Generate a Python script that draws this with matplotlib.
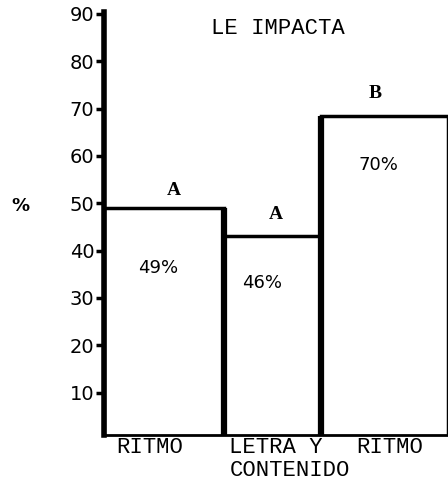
import numpy as np
import matplotlib.pyplot as plt

# values
categories = ["RITMO", "LETRA Y", "RITMO"]
bar_heights = [49, 43, 68.5]
pct_labels = ["49%", "46%", "70%"]
group_letters = ["A", "A", "B"]
yticks = [10, 20, 30, 40, 50, 60, 70, 80, 90]

# layout (pixel-like units along x)
lefts = np.array([0, 120, 217])
widths = np.array([120, 97, 127])

fig = plt.figure(figsize=(4.48, 4.84), dpi=100)
ax = fig.add_axes([0.232, 0.101, 0.768, 0.875])

ax.bar(lefts, bar_heights, width=widths, align='edge', color='white',
       edgecolor='black', linewidth=2.5, zorder=2)

# thick separators between bars
rights = lefts + widths
for i in range(len(rights) - 1):
    top = max(bar_heights[i], bar_heights[i + 1])
    ax.vlines(rights[i], 0, top, color='black', linewidth=4.5, zorder=3)

ax.set_xlim(0, 344)
ax.set_ylim(1, 90.5)

ax.spines['top'].set_visible(False)
ax.spines['right'].set_visible(False)
ax.spines['left'].set_linewidth(4)
ax.spines['bottom'].set_linewidth(2)

ax.set_yticks(yticks)
ax.set_yticklabels([str(t) for t in yticks], fontsize=14, family='DejaVu Sans')
ax.tick_params(axis='y', length=6, width=2.5, pad=1)
ax.set_xticks([])

mono = 'Liberation Mono'
ax.text(174, 87, "LE IMPACTA", ha='center', va='center', fontsize=16, family=mono)

# group letters above the bars
letter_x = [70, 172, 271]
letter_y = [52.7, 47.7, 73.2]
for lx, ly, s in zip(letter_x, letter_y, group_letters):
    ax.text(lx, ly, s, ha='center', va='center', fontsize=14, family='Liberation Serif',
            fontweight='bold')

# percentage labels inside the bars
pct_x = [54, 158, 274]
pct_y = [36.3, 33.1, 58]
for px, py, s in zip(pct_x, pct_y, pct_labels):
    ax.text(px, py, s, ha='center', va='center', fontsize=13, family='DejaVu Sans')

fig.text(0.045, 0.575, "%", ha='center', va='center', fontsize=13, fontweight='bold')

# category labels under the axis
cat_x = [46, 172, 286]
for cx, s in zip(cat_x, categories):
    ax.text(cx, -1.7, s, ha='center', va='center', fontsize=16, family=mono)
ax.text(186, -6.4, "CONTENIDO", ha='center', va='center', fontsize=16, family=mono)

fig.savefig("out.png", dpi=100)
